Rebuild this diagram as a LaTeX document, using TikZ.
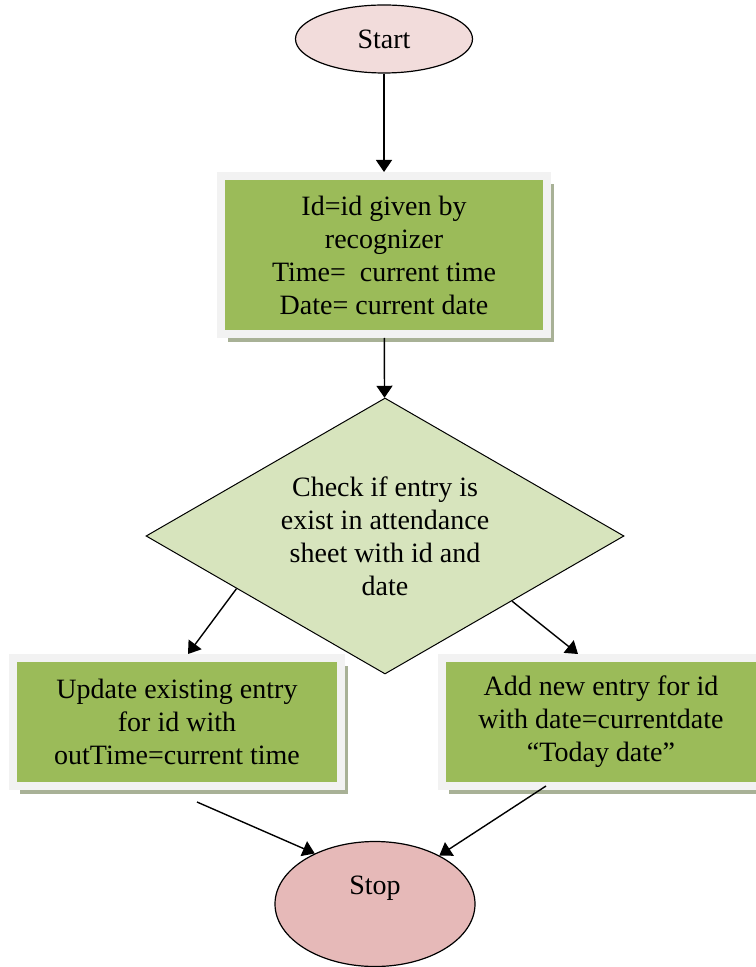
\documentclass[tikz,border=0pt]{standalone}
\usepackage{fontspec}
\setmainfont{Liberation Serif}
\usetikzlibrary{shapes.geometric,arrows.meta,shadows,calc}

\definecolor{startpink}{HTML}{F2DCDB}
\definecolor{stoppink}{HTML}{E6B9B8}
\definecolor{boxgreen}{HTML}{9BBB59}
\definecolor{diagreen}{HTML}{D7E4BD}
\definecolor{framegray}{HTML}{F2F2F2}
\definecolor{shadowgray}{HTML}{A8B196}

\tikzset{
  oval/.style={ellipse, draw, line width=0.6pt, inner sep=0pt},
  greenbox/.style={rectangle, fill=boxgreen, draw=framegray, line width=4pt,
    align=center, inner sep=0pt,
    drop shadow={shadow xshift=3.5pt, shadow yshift=-4pt, fill=shadowgray, opacity=1}},
  decision/.style={diamond, draw, fill=diagreen, line width=0.5pt, aspect=1.73,
    align=center, inner sep=1pt},
  arr/.style={-{Triangle[length=6pt,width=8pt]}, line width=0.7pt},
}

\begin{document}
\begin{tikzpicture}[x=0.5pt, y=-0.5pt,
    every node/.style={font=\fontsize{14}{16.5}\selectfont}]
    \useasboundingbox (0,0) rectangle (755,967);

    \node[oval, fill=startpink, minimum width=88.5pt, minimum height=34pt] (start) at (384,39) {Start};
    \node[greenbox, minimum width=163pt, minimum height=79pt] (info) at (384,255)
        {Id=id given by\\recognizer\\Time= \ current time\\Date= current date};
    \node[decision, minimum width=239pt, minimum height=138pt] (chk) at (385,536)
        {Check if entry is\\exist in attendance\\sheet with id and\\date};

    \node[greenbox, minimum width=164pt, minimum height=64pt] (upd) at (177,722)
        {Update existing entry\\for id with\\outTime=current time};
    \node[greenbox, minimum width=159pt, minimum height=64pt] (add) at (601,722)
        {Add new entry for id\\with date=currentdate\\“Today date”};

    \node[oval, fill=stoppink, minimum width=100pt, minimum height=62.5pt,
        label={[yshift=8pt]center:Stop}] (stop) at (375,904) {};

    % connectors
    \draw[arr] (start) -- (info);
    \draw[arr] (info) -- (chk);

    \coordinate (dl) at ($(chk.west)!0.38!(chk.south)$);
    \coordinate (dr) at ($(chk.east)!0.47!(chk.south)$);
    \draw[arr] (dl) -- ([xshift=5.5pt]upd.north);
    \draw[arr] (dr) -- ([xshift=-11.5pt]add.north);

    \draw[arr] ([xshift=10pt,yshift=-6pt]upd.south) -- (stop.140);
    \draw[arr] ([xshift=-27.5pt,yshift=2pt]add.south) -- (stop.37);

\end{tikzpicture}
\end{document}
